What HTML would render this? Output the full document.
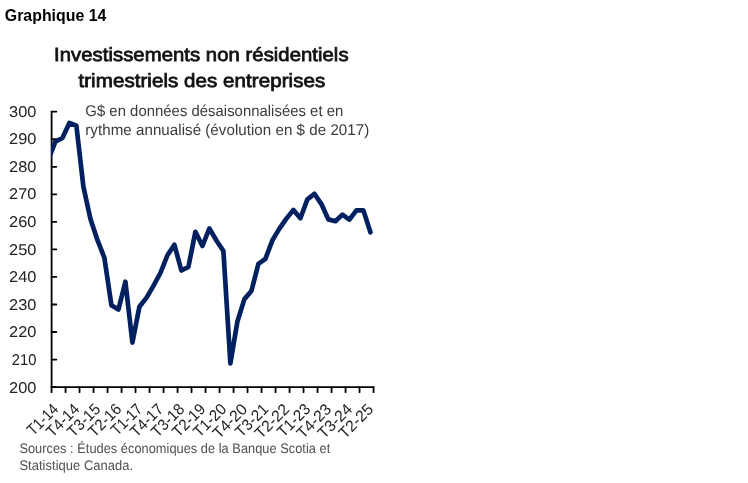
<!DOCTYPE html>
<html lang="fr"><head><meta charset="utf-8"><title>Graphique 14</title>
<style>
html,body{margin:0;padding:0;background:#fff;}
body{width:748px;height:483px;overflow:hidden;}
svg{display:block;font-family:"Liberation Sans",sans-serif;}
.ax{stroke:#000;stroke-width:1.8;fill:none;stroke-linecap:round;}
.yl{font-size:15.6px;fill:#222;}
.xl{font-size:15.8px;fill:#222;}
.h{font-size:16px;font-weight:bold;fill:#000;}
.t{font-size:19px;fill:#111;stroke:#111;stroke-width:0.75px;}
.s{font-size:15.5px;fill:#3c3c3c;}
.src{font-size:13.8px;fill:#505050;}
</style></head><body>
<svg width="748" height="483" viewBox="0 0 748 483">
<rect x="0" y="0" width="748" height="483" fill="#fff"/>
<rect x="1.5" y="33.5" width="397" height="452" fill="none" stroke="#fdfdfd" stroke-width="1"/>
<text x="4.8" y="20.5" class="h" textLength="101.6" lengthAdjust="spacingAndGlyphs">Graphique 14</text>
<text transform="translate(54.1,61.4) skewX(0.4)" class="t" textLength="294.5" lengthAdjust="spacingAndGlyphs">Investissements non résidentiels</text>
<text transform="translate(78.5,86.8) skewX(0.4)" class="t" textLength="246.8" lengthAdjust="spacingAndGlyphs">trimestriels des entreprises</text>
<text transform="translate(85.3,115.7) skewX(0.4)" class="s" textLength="258" lengthAdjust="spacingAndGlyphs">G$ en données désaisonnalisées et en</text>
<text transform="translate(85.3,135.1) skewX(0.4)" class="s" textLength="284" lengthAdjust="spacingAndGlyphs">rythme annualisé (évolution en $ de 2017)</text>
<line x1="51.6" y1="111.7" x2="51.6" y2="387.1" class="ax"/>
<line x1="51.6" y1="387.1" x2="373.55" y2="387.1" class="ax"/>
<line x1="51.6" y1="111.70" x2="56.3" y2="111.70" class="ax"/>
<text transform="translate(36.4,116.50) skewX(0.4)" x="0" y="0" class="yl" text-anchor="end" textLength="27.4" lengthAdjust="spacingAndGlyphs">300</text>
<line x1="51.6" y1="139.24" x2="56.3" y2="139.24" class="ax"/>
<text transform="translate(36.4,144.10) skewX(0.4)" x="0" y="0" class="yl" text-anchor="end" textLength="27.4" lengthAdjust="spacingAndGlyphs">290</text>
<line x1="51.6" y1="166.78" x2="56.3" y2="166.78" class="ax"/>
<text transform="translate(36.4,171.70) skewX(0.4)" x="0" y="0" class="yl" text-anchor="end" textLength="27.4" lengthAdjust="spacingAndGlyphs">280</text>
<line x1="51.6" y1="194.32" x2="56.3" y2="194.32" class="ax"/>
<text transform="translate(36.4,199.30) skewX(0.4)" x="0" y="0" class="yl" text-anchor="end" textLength="27.4" lengthAdjust="spacingAndGlyphs">270</text>
<line x1="51.6" y1="221.86" x2="56.3" y2="221.86" class="ax"/>
<text transform="translate(36.4,226.90) skewX(0.4)" x="0" y="0" class="yl" text-anchor="end" textLength="27.4" lengthAdjust="spacingAndGlyphs">260</text>
<line x1="51.6" y1="249.40" x2="56.3" y2="249.40" class="ax"/>
<text transform="translate(36.4,254.50) skewX(0.4)" x="0" y="0" class="yl" text-anchor="end" textLength="27.4" lengthAdjust="spacingAndGlyphs">250</text>
<line x1="51.6" y1="276.94" x2="56.3" y2="276.94" class="ax"/>
<text transform="translate(36.4,282.10) skewX(0.4)" x="0" y="0" class="yl" text-anchor="end" textLength="27.4" lengthAdjust="spacingAndGlyphs">240</text>
<line x1="51.6" y1="304.48" x2="56.3" y2="304.48" class="ax"/>
<text transform="translate(36.4,309.70) skewX(0.4)" x="0" y="0" class="yl" text-anchor="end" textLength="27.4" lengthAdjust="spacingAndGlyphs">230</text>
<line x1="51.6" y1="332.02" x2="56.3" y2="332.02" class="ax"/>
<text transform="translate(36.4,337.30) skewX(0.4)" x="0" y="0" class="yl" text-anchor="end" textLength="27.4" lengthAdjust="spacingAndGlyphs">220</text>
<line x1="51.6" y1="359.56" x2="56.3" y2="359.56" class="ax"/>
<text transform="translate(36.4,364.90) skewX(0.4)" x="0" y="0" class="yl" text-anchor="end" textLength="24.7" lengthAdjust="spacingAndGlyphs">210</text>
<line x1="51.6" y1="387.10" x2="56.3" y2="387.10" class="ax"/>
<text transform="translate(36.4,392.50) skewX(0.4)" x="0" y="0" class="yl" text-anchor="end" textLength="27.4" lengthAdjust="spacingAndGlyphs">200</text>
<line x1="51.55" y1="387.1" x2="51.55" y2="392.2" class="ax"/>
<line x1="65.55" y1="387.1" x2="65.55" y2="392.2" class="ax"/>
<line x1="79.55" y1="387.1" x2="79.55" y2="392.2" class="ax"/>
<line x1="93.55" y1="387.1" x2="93.55" y2="392.2" class="ax"/>
<line x1="107.55" y1="387.1" x2="107.55" y2="392.2" class="ax"/>
<line x1="121.55" y1="387.1" x2="121.55" y2="392.2" class="ax"/>
<line x1="135.55" y1="387.1" x2="135.55" y2="392.2" class="ax"/>
<line x1="149.55" y1="387.1" x2="149.55" y2="392.2" class="ax"/>
<line x1="163.55" y1="387.1" x2="163.55" y2="392.2" class="ax"/>
<line x1="177.55" y1="387.1" x2="177.55" y2="392.2" class="ax"/>
<line x1="191.55" y1="387.1" x2="191.55" y2="392.2" class="ax"/>
<line x1="205.55" y1="387.1" x2="205.55" y2="392.2" class="ax"/>
<line x1="219.55" y1="387.1" x2="219.55" y2="392.2" class="ax"/>
<line x1="233.55" y1="387.1" x2="233.55" y2="392.2" class="ax"/>
<line x1="247.55" y1="387.1" x2="247.55" y2="392.2" class="ax"/>
<line x1="261.55" y1="387.1" x2="261.55" y2="392.2" class="ax"/>
<line x1="275.55" y1="387.1" x2="275.55" y2="392.2" class="ax"/>
<line x1="289.55" y1="387.1" x2="289.55" y2="392.2" class="ax"/>
<line x1="303.55" y1="387.1" x2="303.55" y2="392.2" class="ax"/>
<line x1="317.55" y1="387.1" x2="317.55" y2="392.2" class="ax"/>
<line x1="331.55" y1="387.1" x2="331.55" y2="392.2" class="ax"/>
<line x1="345.55" y1="387.1" x2="345.55" y2="392.2" class="ax"/>
<line x1="359.55" y1="387.1" x2="359.55" y2="392.2" class="ax"/>
<line x1="373.55" y1="387.1" x2="373.55" y2="392.2" class="ax"/>
<text transform="translate(59.3,410.2) rotate(-45)" x="0" y="0" text-anchor="end" class="xl" textLength="37.0" lengthAdjust="spacingAndGlyphs">T1-14</text>
<text transform="translate(80.3,410.2) rotate(-45)" x="0" y="0" text-anchor="end" class="xl" textLength="39.3" lengthAdjust="spacingAndGlyphs">T4-14</text>
<text transform="translate(101.3,410.2) rotate(-45)" x="0" y="0" text-anchor="end" class="xl" textLength="39.3" lengthAdjust="spacingAndGlyphs">T3-15</text>
<text transform="translate(122.3,410.2) rotate(-45)" x="0" y="0" text-anchor="end" class="xl" textLength="39.3" lengthAdjust="spacingAndGlyphs">T2-16</text>
<text transform="translate(143.3,410.2) rotate(-45)" x="0" y="0" text-anchor="end" class="xl" textLength="37.0" lengthAdjust="spacingAndGlyphs">T1-17</text>
<text transform="translate(164.3,410.2) rotate(-45)" x="0" y="0" text-anchor="end" class="xl" textLength="39.3" lengthAdjust="spacingAndGlyphs">T4-17</text>
<text transform="translate(185.3,410.2) rotate(-45)" x="0" y="0" text-anchor="end" class="xl" textLength="39.3" lengthAdjust="spacingAndGlyphs">T3-18</text>
<text transform="translate(206.3,410.2) rotate(-45)" x="0" y="0" text-anchor="end" class="xl" textLength="39.3" lengthAdjust="spacingAndGlyphs">T2-19</text>
<text transform="translate(227.3,410.2) rotate(-45)" x="0" y="0" text-anchor="end" class="xl" textLength="39.3" lengthAdjust="spacingAndGlyphs">T1-20</text>
<text transform="translate(248.3,410.2) rotate(-45)" x="0" y="0" text-anchor="end" class="xl" textLength="41.6" lengthAdjust="spacingAndGlyphs">T4-20</text>
<text transform="translate(269.3,410.2) rotate(-45)" x="0" y="0" text-anchor="end" class="xl" textLength="39.3" lengthAdjust="spacingAndGlyphs">T3-21</text>
<text transform="translate(290.3,410.2) rotate(-45)" x="0" y="0" text-anchor="end" class="xl" textLength="41.6" lengthAdjust="spacingAndGlyphs">T2-22</text>
<text transform="translate(311.3,410.2) rotate(-45)" x="0" y="0" text-anchor="end" class="xl" textLength="39.3" lengthAdjust="spacingAndGlyphs">T1-23</text>
<text transform="translate(332.3,410.2) rotate(-45)" x="0" y="0" text-anchor="end" class="xl" textLength="41.6" lengthAdjust="spacingAndGlyphs">T4-23</text>
<text transform="translate(353.3,410.2) rotate(-45)" x="0" y="0" text-anchor="end" class="xl" textLength="41.6" lengthAdjust="spacingAndGlyphs">T3-24</text>
<text transform="translate(374.3,410.2) rotate(-45)" x="0" y="0" text-anchor="end" class="xl" textLength="41.6" lengthAdjust="spacingAndGlyphs">T2-25</text>
<clipPath id="c"><rect x="51" y="100" width="340" height="290"/></clipPath>
<polyline clip-path="url(#c)" points="48.4,159.5 55.4,141.7 62.4,137.9 69.4,123.0 76.4,125.8 83.4,186.7 90.4,218.7 97.4,239.9 104.4,257.8 111.4,305.2 118.4,309.6 125.4,281.7 132.4,342.6 139.4,306.7 146.4,297.9 153.4,285.9 160.4,273.0 167.4,255.3 174.4,244.8 181.4,270.5 188.4,266.9 195.4,231.8 202.4,246.0 209.4,228.4 216.4,240.5 223.4,251.0 230.4,363.4 237.4,321.5 244.4,299.1 251.4,291.0 258.4,263.9 265.4,258.8 272.4,240.3 279.4,228.6 286.4,218.6 293.4,209.9 300.4,218.2 307.4,199.3 314.4,193.8 321.4,204.1 328.4,219.4 335.4,221.2 342.4,214.6 349.4,219.7 356.4,210.4 363.4,210.4 370.4,232.3" fill="none" stroke="#002060" stroke-width="4.7" stroke-linejoin="round" stroke-linecap="round"/>
<text transform="translate(19.4,452.7) skewX(0.4)" class="src" textLength="310.8" lengthAdjust="spacingAndGlyphs">Sources : Études économiques de la Banque Scotia et</text>
<text transform="translate(19.4,469.9) skewX(0.4)" class="src" textLength="113.8" lengthAdjust="spacingAndGlyphs">Statistique Canada.</text>
</svg>
</body></html>
